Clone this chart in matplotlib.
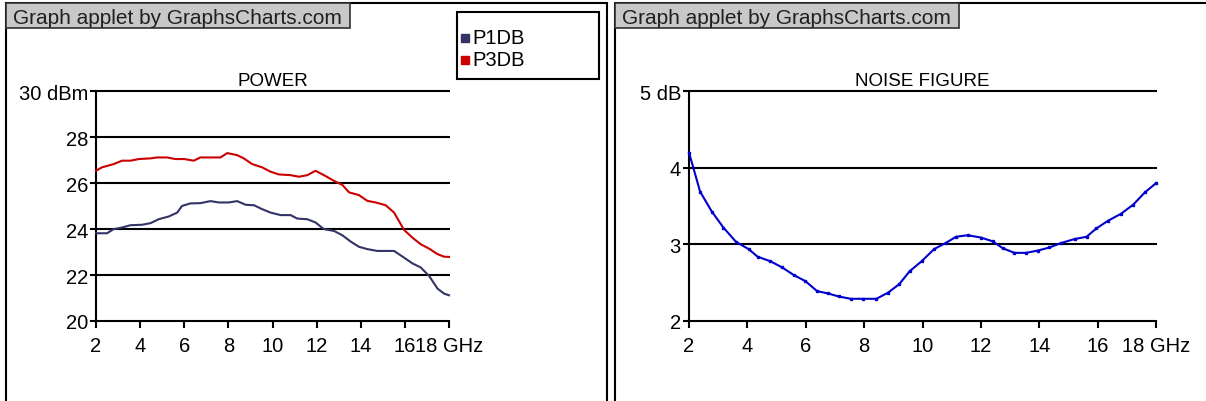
import matplotlib
matplotlib.use('Agg')
import matplotlib.pyplot as plt
from matplotlib.patches import Rectangle
from matplotlib.lines import Line2D

plt.rcParams['font.family'] = ['Liberation Sans', 'DejaVu Sans']

# power data (GHz, dBm)
p3db_f = [2.0, 2.27, 2.8, 3.18, 3.56, 3.94, 4.47, 4.77, 5.22, 5.6, 6.0, 6.43, 6.73, 7.64,
          7.95, 8.4, 8.7, 9.08, 9.53, 9.91, 10.29, 10.82, 11.2, 11.58, 11.95, 12.33, 12.79,
          13.17, 13.47, 13.92, 14.3, 14.68, 15.13, 15.51, 15.96, 16.34, 16.72, 17.1, 17.48,
          17.78, 18.0]
p3db = [26.54, 26.69, 26.83, 26.98, 26.98, 27.05, 27.08, 27.12, 27.12, 27.05, 27.05, 26.98,
        27.12, 27.12, 27.31, 27.22, 27.08, 26.83, 26.69, 26.50, 26.38, 26.35, 26.28, 26.35,
        26.54, 26.35, 26.10, 25.92, 25.60, 25.48, 25.23, 25.16, 25.04, 24.72, 23.97, 23.63,
        23.34, 23.15, 22.91, 22.80, 22.79]

p1db_f = [2.0, 2.5, 2.8, 3.18, 3.56, 4.09, 4.47, 4.84, 5.3, 5.68, 5.9, 6.28, 6.73, 7.19,
          7.57, 8.02, 8.4, 8.78, 9.16, 9.53, 9.91, 10.37, 10.82, 11.12, 11.58, 11.95, 12.33,
          12.79, 13.17, 13.54, 13.92, 14.3, 14.75, 15.13, 15.51, 15.96, 16.34, 16.72, 17.1,
          17.48, 17.78, 18.0]
p1db = [23.82, 23.82, 24.0, 24.07, 24.17, 24.19, 24.26, 24.43, 24.55, 24.72, 25.01, 25.12,
        25.13, 25.22, 25.16, 25.16, 25.22, 25.06, 25.04, 24.87, 24.72, 24.61, 24.61, 24.46,
        24.43, 24.29, 24.0, 23.92, 23.73, 23.46, 23.23, 23.13, 23.05, 23.05, 23.05, 22.76,
        22.51, 22.33, 21.96, 21.41, 21.19, 21.12]

# noise figure data (GHz, dB)
nf_f = [2.0, 2.38, 2.78, 3.18, 3.62, 4.04, 4.35, 4.79, 5.19, 5.59, 5.99, 6.39, 6.76, 7.13,
        7.54, 7.97, 8.42, 8.82, 9.2, 9.56, 9.97, 10.4, 10.8, 11.15, 11.55, 12.0, 12.41,
        12.75, 13.15, 13.55, 13.95, 14.35, 14.76, 15.21, 15.62, 15.96, 16.36, 16.8, 17.22,
        17.62, 18.0]
nf = [4.20, 3.69, 3.43, 3.22, 3.03, 2.94, 2.84, 2.78, 2.70, 2.60, 2.52, 2.39, 2.36, 2.32,
      2.29, 2.29, 2.29, 2.37, 2.48, 2.65, 2.78, 2.94, 3.02, 3.10, 3.12, 3.09, 3.04, 2.95,
      2.89, 2.89, 2.92, 2.96, 3.02, 3.07, 3.10, 3.21, 3.31, 3.40, 3.52, 3.68, 3.80]

x_ticks = [2, 4, 6, 8, 10, 12, 14, 16, 18]
x_labels = ['2', '4', '6', '8', '10', '12', '14', '16', '18 GHz']
pw_ticks = [20, 22, 24, 26, 28, 30]
pw_labels = ['20', '22', '24', '26', '28', '30 dBm']
nf_ticks = [2, 3, 4, 5]
nf_labels = ['2', '3', '4', '5 dB']
series_names = ['P1DB', 'P3DB']
series_colors = ['#333366', '#cc0000']

W, H = 1206, 402
fs = 14.5
lw = 1.5


def fx(px):
    return px / W


def fy(py):
    return 1 - py / H


fig = plt.figure(figsize=(W / 100, H / 100), dpi=100)

# panel frames and watermark boxes
for left, right in [(6, 607), (615, 1210)]:
    fig.patches.append(Rectangle((fx(left), fy(420)), fx(right - left), (420 - 4) / H,
                                 transform=fig.transFigure, fill=False, edgecolor='black',
                                 linewidth=lw))
    fig.patches.append(Rectangle((fx(left), fy(29)), fx(344), 25 / H,
                                 transform=fig.transFigure, facecolor='#c8c8c8',
                                 edgecolor='#303030', linewidth=1.2))
    fig.text(fx(left + 7), fy(24), 'Graph applet by GraphsCharts.com', fontsize=15,
             color='#202020', va='baseline', ha='left')


def style_axes(ax, yticks, ylabels, title):
    ax.set_xlim(2, 18)
    ax.set_ylim(yticks[0], yticks[-1])
    ax.set_xticks(x_ticks)
    ax.set_xticklabels(x_labels)
    ax.set_yticks(yticks)
    ax.set_yticklabels(ylabels)
    for s in ['top', 'right']:
        ax.spines[s].set_visible(False)
    for s in ['left', 'bottom']:
        ax.spines[s].set_linewidth(lw)
        ax.spines[s].set_color('black')
    ax.hlines(yticks[1:], 2, 18.05, colors='black', linewidth=lw, clip_on=False, zorder=1)
    ax.tick_params(axis='y', direction='out', length=4.3, width=lw, pad=1.5, labelsize=fs)
    ax.tick_params(axis='x', direction='out', length=5, width=lw, pad=5.5, labelsize=fs)
    ax.set_title(title, fontsize=13.5, pad=4.3)
    ax.set_facecolor('none')


axL = fig.add_axes([fx(96), fy(322), fx(449 - 96), (322 - 92.3) / H])
style_axes(axL, pw_ticks, pw_labels, 'POWER')
axL.plot(p1db_f, p1db, color=series_colors[0], linewidth=lw, clip_on=False, zorder=3)
axL.plot(p3db_f, p3db, color=series_colors[1], linewidth=lw, clip_on=False, zorder=3)

axR = fig.add_axes([fx(689), fy(322), fx(1156 - 689), (322 - 92.3) / H])
style_axes(axR, nf_ticks, nf_labels, 'NOISE FIGURE')
axR.plot(nf_f, nf, color='#0000cc', linewidth=lw, marker='s', markersize=1.8,
         clip_on=False, zorder=3)

# legend box drawn like the applet's
fig.patches.append(Rectangle((fx(457), fy(80)), fx(142), 67 / H, transform=fig.transFigure,
                             fill=False, edgecolor='black', linewidth=lw))
for i, (name, col) in enumerate(zip(series_names, series_colors)):
    yy = 39 + 22 * i
    fig.add_artist(Line2D([fx(465)], [fy(yy)], marker='s', markersize=5.5, color=col,
                          linestyle='none', transform=fig.transFigure))
    fig.text(fx(472), fy(yy), name, fontsize=fs, va='center', ha='left')

fig.savefig('out.png', dpi=100)
